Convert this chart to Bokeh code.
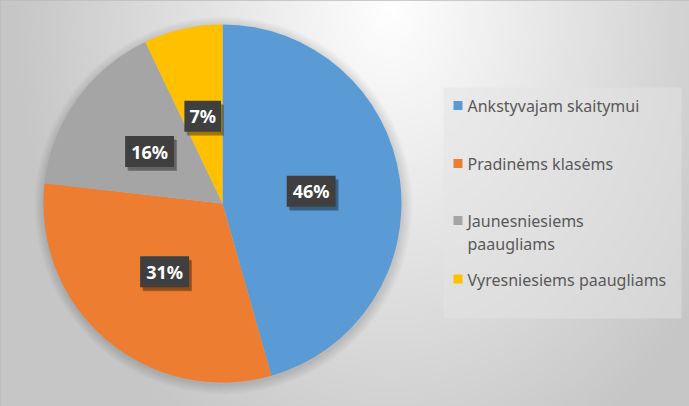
import numpy as np
from bokeh.plotting import figure
from bokeh.models import Range1d, ColumnDataSource
from bokeh.core.properties import value
from bokeh.embed import file_html
from bokeh.resources import INLINE

# ---- data ----
categories = ["Ankstyvajam skaitymui", "Pradinėms klasėms",
              "Jaunesniesiems\npaaugliams", "Vyresniesiems paaugliams"]
shares = [45.6, 31.2, 16.1, 7.1]
colors = ["#5b9bd5", "#ed7d31", "#a5a5a5", "#ffc000"]

W, H = 689, 406
p = figure(width=W, height=H, output_backend="svg", toolbar_location=None,
           x_range=Range1d(0, W), y_range=Range1d(0, H),
           x_axis_type=None, y_axis_type=None, min_border=0)
p.grid.visible = False
p.outline_line_color = "#bcbcbc"
p.outline_line_width = 2
p.background_fill_color = "#e0e0e0"
p.border_fill_color = "#e0e0e0"

# background gradient (elliptical radial, light near top)
yy, xx = np.mgrid[0:H, 0:W]
py = H - yy - 0.5
px = xx + 0.5
d = np.sqrt(((px - 390) / 330.0) ** 2 + ((py - 5) / 440.0) ** 2)
g = 255 - 57 * np.clip(d, 0, 1.15) / 1.15
g = g.astype(np.uint32)
img = (255 << 24) | (g << 16) | (g << 8) | g
p.image_rgba(image=[img.astype(np.uint32)], x=0, y=0, dw=W, dh=H)

# pie geometry (pixel coordinates, y up)
cx, cy, R = 222, H - 203, 179

# soft shadow around pie
for i in range(10):
    p.circle(x=[cx + 1], y=[cy - 2], radius=R + 10 - i, fill_color="black",
             fill_alpha=0.012, line_color=None)

total = float(sum(shares))
fr = np.array(shares) / total
ends = np.cumsum(fr)
starts = ends - fr
src = ColumnDataSource(dict(
    start=np.pi / 2 - starts * 2 * np.pi,
    end=np.pi / 2 - ends * 2 * np.pi,
    color=colors))
p.wedge(x=cx, y=cy, radius=R, start_angle="start", end_angle="end",
        direction="clock", fill_color="color", line_color=None, source=src)

# data labels
mid = (starts + ends) / 2 * 2 * np.pi
lr = 0.5 * R
lx = cx + lr * np.sin(mid)
ly = cy + lr * np.cos(mid)
labels = [f"{round(v / total * 100)}%" for v in shares]
bw = [12 + 12.3 * len(s) for s in labels]
p.rect(x=lx + 3, y=ly - 4, width=bw, height=31, fill_color="black",
       fill_alpha=0.28, line_color=None)
p.rect(x=lx + 2, y=ly - 3, width=bw, height=31, fill_color="black",
       fill_alpha=0.15, line_color=None)
p.rect(x=lx, y=ly, width=bw, height=31, fill_color="#3f3f3f",
       line_color=None)
p.text(x=lx, y=ly, text=labels, text_color="white", text_font=value("Noto Sans"),
       text_font_style="bold", text_font_size="18px", text_align="center",
       text_baseline="middle")

# legend
p.rect(x=(443 + 681) / 2, y=H - (87 + 318) / 2, width=238, height=231,
       fill_color="#e4e4e4", fill_alpha=0.5, line_color=None)
sq_y = [H - 105, H - 163, H - 220, H - 278.5]
p.rect(x=[457.5] * 4, y=sq_y, width=9, height=9, fill_color=colors, line_color=None)
line_gap = 23
tx, ty, tt = [], [], []
for yc, lab in zip(sq_y, categories):
    for k, line in enumerate(lab.split("\n")):
        tx.append(467)
        ty.append(yc - 0.5 - k * line_gap)
        tt.append(line)
p.text(x=tx, y=ty, text=tt, text_color="#595959",
       text_font=value("Noto Sans"), text_font_size="16px",
       text_baseline="middle", text_align="left")

open("out.html", "w").write(file_html(p, INLINE))
